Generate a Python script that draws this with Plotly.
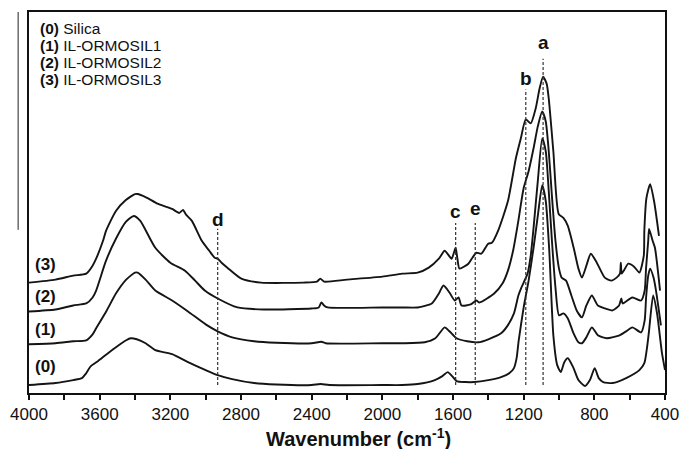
import plotly.graph_objects as go

# ---------------- data ----------------
wn0 = [4000, 3850, 3750, 3700, 3680, 3650, 3610, 3560, 3500, 3450, 3424, 3390, 3340, 3285, 3190, 3100,
       3000, 2932, 2850, 2726, 2600, 2400, 2350, 2300, 2000, 1887, 1800, 1703, 1660, 1630, 1605, 1580,
       1530, 1479, 1400, 1328, 1280, 1255, 1240, 1228, 1200, 1172, 1144, 1120, 1095, 1075, 1055, 1032,
       1010, 990, 970, 950, 920, 890, 853, 825, 798, 775, 750, 697, 620, 545, 517, 500, 490, 467, 445, 417, 400]
ab0 = [8, 10, 13, 15, 19, 27, 32, 39, 47, 53, 55, 54, 50, 43, 39, 31,
       23, 18, 14, 10, 8.5, 8, 9, 8, 8, 8, 9, 13, 17, 21, 17, 12,
       11, 11, 13, 16, 20, 25, 35, 53, 86, 113, 146, 178, 209, 193, 143, 58,
       28, 21, 31, 35, 26, 13, 7, 13, 25, 15, 11, 10, 15, 23, 30, 48, 63, 98, 80, 40, 23]

wn1 = [4000, 3850, 3750, 3676, 3640, 3620, 3560, 3508, 3450, 3400, 3385, 3340, 3285, 3190, 3100, 3000,
       2932, 2850, 2726, 2600, 2400, 2345, 2320, 2000, 1887, 1760, 1700, 1647, 1620, 1580, 1520, 1457,
       1400, 1328, 1290, 1255, 1230, 1213, 1178, 1160, 1144, 1120, 1095, 1075, 1058, 1040, 1020, 1000,
       975, 950, 920, 890, 870, 845, 814, 780, 730, 657, 620, 585, 535, 515, 507, 495, 484, 465, 451, 423]
ab1 = [49, 50, 52, 53, 59, 65, 83, 100, 114, 121, 121, 114, 103, 93, 82, 69,
       62, 56, 52, 50.5, 50, 51.5, 50, 50, 50, 51, 55, 66, 62, 55, 52, 51,
       54, 60, 68, 80, 98, 106, 120, 138, 166, 213, 256, 243, 203, 153, 106, 78,
       80, 75, 61, 51, 50, 56, 66, 58, 55, 58, 62, 66, 61, 73, 96, 118, 125, 116, 103, 68]

wn2 = [4000, 3850, 3750, 3676, 3640, 3620, 3564, 3508, 3452, 3407, 3370, 3285, 3200, 3117, 3060, 3005,
       2932, 2820, 2670, 2400, 2360, 2345, 2330, 2310, 2000, 1887, 1800, 1720, 1680, 1654, 1620, 1590,
       1568, 1552, 1500, 1468, 1450, 1367, 1320, 1289, 1260, 1233, 1200, 1172, 1144, 1120, 1095, 1075,
       1058, 1040, 1020, 1000, 985, 960, 930, 900, 870, 845, 814, 780, 740, 697, 660, 647, 640, 585,
       535, 515, 507, 495, 490, 470, 457, 428]
ab2 = [82, 84, 88, 90, 96, 103, 133, 155, 172, 178, 173, 146, 131, 123, 113, 103,
       95, 86, 84, 85, 86, 91, 88, 86, 86, 86, 86, 90, 100, 108, 101, 93,
       96, 88, 89, 93, 91, 100, 110, 123, 143, 170, 206, 223, 246, 268, 283, 273,
       243, 198, 153, 125, 116, 113, 98, 83, 76, 88, 98, 88, 85, 83, 88, 95, 90, 96,
       93, 103, 126, 153, 165, 153, 146, 103]

wn3 = [4000, 3850, 3750, 3676, 3640, 3620, 3581, 3564, 3508, 3452, 3400, 3387, 3340, 3268, 3190, 3150,
       3128, 3110, 3078, 3022, 2980, 2949, 2932, 2910, 2877, 2798, 2687, 2446, 2370, 2351, 2330, 2200,
       2000, 1887, 1800, 1737, 1680, 1647, 1608, 1595, 1585, 1575, 1563, 1513, 1490, 1468, 1440, 1401,
       1380, 1345, 1289, 1244, 1216, 1188, 1160, 1132, 1110, 1090, 1070, 1058, 1032, 1002, 975, 950,
       917, 890, 870, 845, 820, 786, 741, 703, 674, 655, 650, 645, 630, 608, 575, 545, 520, 517, 505,
       484, 462, 434]
ab3 = [111, 114, 118, 120, 128, 135, 153, 163, 183, 194, 200, 200, 197, 190, 185, 181,
       184, 179, 173, 153, 143, 136, 135, 131, 126, 115, 111, 111, 112, 115, 112, 114,
       117, 120, 121, 126, 135, 143, 135, 141, 146, 135, 125, 130, 136, 141, 140, 150,
       151, 163, 193, 236, 256, 275, 271, 286, 306, 318, 311, 296, 243, 180, 176, 168,
       146, 125, 116, 128, 140, 131, 116, 113, 116, 120, 131, 120, 124, 130, 127, 121, 138, 163, 196,
       210, 193, 158]

series_wn = [wn0, wn1, wn2, wn3]
series_ab = [ab0, ab1, ab2, ab3]
curve_tags = ["(0)", "(1)", "(2)", "(3)"]
sample_names = ["Silica", "IL-ORMOSIL1", "IL-ORMOSIL2", "IL-ORMOSIL3"]

peak_letters = ["a", "b", "c", "d", "e"]
peak_wn = [1090, 1188, 1585, 2932, 1474]

# ---------------- figure ----------------
W, H = 689, 449
L, R, T, B = 22, 23, 10, 56
PW, PH = W - L - R, H - T - B
YMAX = 383.0

def px_to_paper(x, y):
    return (x - L) / PW, (H - B - y) / PH

fig = go.Figure()
for wn, ab in zip(series_wn, series_ab):
    fig.add_trace(go.Scatter(x=wn, y=ab, mode="lines",
                             line=dict(color="#141414", width=1.9, shape="spline", smoothing=0.6),
                             showlegend=False, hoverinfo="skip"))

font_main = "Liberation Sans, Arial, sans-serif"

# peak markers: dashed vertical lines + bold letters
label_px_y = {"a": 41, "b": 77, "c": 211, "d": 219, "e": 208}
line_top_px = {"a": 57, "b": 88, "c": 222, "d": 228, "e": 222}
for letter, w in zip(peak_letters, peak_wn):
    y_top = H - B - line_top_px[letter]
    fig.add_shape(type="line", x0=w, x1=w, y0=8, y1=y_top, xref="x", yref="y",
                  line=dict(color="#333333", width=1.2, dash="3px,2px"))
    fig.add_annotation(x=w, y=H - B - label_px_y[letter], xref="x", yref="y", text="<b>%s</b>" % letter,
                       showarrow=False, font=dict(family=font_main, size=19, color="#111"),
                       xanchor="center", yanchor="middle")

# curve tags on the left
tag_px = [(39, 366), (39, 329), (39, 296), (39, 264)]
for tag, (tx, ty) in zip(curve_tags, tag_px):
    px, py = px_to_paper(tx, ty)
    fig.add_annotation(x=px, y=py, xref="paper", yref="paper", text="<b>%s</b>" % tag,
                       showarrow=False, font=dict(family=font_main, size=17, color="#111"),
                       xanchor="center", yanchor="middle")

# legend text block
for i, (tag, name) in enumerate(zip(curve_tags, sample_names)):
    px, py = px_to_paper(32, 27 + i * 17)
    fig.add_annotation(x=px, y=py, xref="paper", yref="paper", text="<b>%s</b> %s" % (tag, name),
                       showarrow=False, font=dict(family=font_main, size=15.5, color="#111"),
                       xanchor="left", yanchor="middle", borderpad=0)

# x-axis title
px, py = px_to_paper(356, 438)
fig.add_annotation(x=px, y=py, xref="paper", yref="paper",
                   text="<b>Wavenumber (cm<sup>-1</sup>)</b>", showarrow=False,
                   font=dict(family=font_main, size=20, color="#111"),
                   xanchor="center", yanchor="middle")

# stray vertical line at the far left of the reference
x0p, y0p = px_to_paper(11, 10)
x1p, y1p = px_to_paper(11, 229)
fig.add_shape(type="line", x0=x0p, x1=x1p, y0=y0p, y1=y1p, xref="paper", yref="paper",
              line=dict(color="#222", width=1))

fig.update_xaxes(range=[4000, 400], tick0=400, dtick=400,
                 ticks="outside", ticklen=5, tickwidth=1.5, tickcolor="#111",
                 minor=dict(tick0=400, dtick=200, ticks="outside", ticklen=5, tickwidth=1.5, tickcolor="#111"),
                 showline=True, linecolor="#111", linewidth=2, mirror=True,
                 showgrid=False, zeroline=False,
                 tickfont=dict(family=font_main, size=17, color="#111"))
fig.update_yaxes(range=[0, YMAX], showticklabels=False, ticks="",
                 showline=True, linecolor="#111", linewidth=2, mirror=True,
                 showgrid=False, zeroline=False)

fig.update_layout(width=W, height=H, margin=dict(l=L, r=R, t=T, b=B),
                  paper_bgcolor="white", plot_bgcolor="white", showlegend=False)

fig.write_html("out.html")
